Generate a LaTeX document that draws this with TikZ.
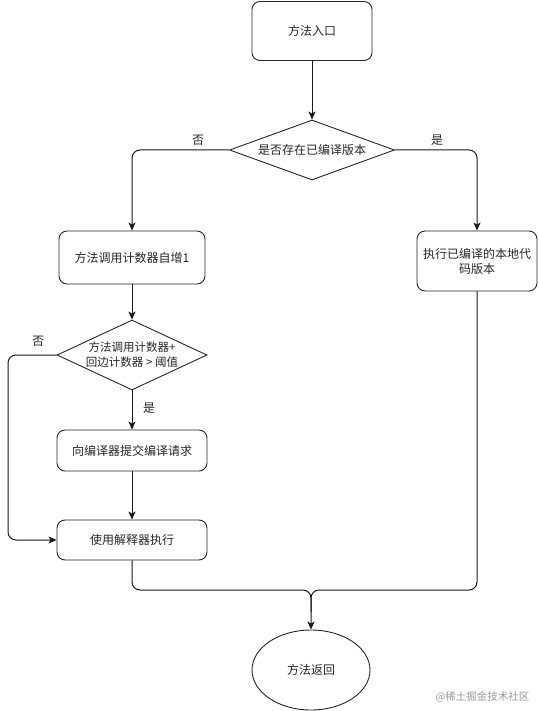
\documentclass[tikz,border=0pt]{standalone}
\usepackage{fontspec}
\setmainfont{Noto Sans CJK SC}
\usetikzlibrary{shapes.geometric,arrows.meta,calc}
\begin{document}
\begin{tikzpicture}[x=1pt,y=-1pt,
  every node/.style={font=\fontsize{12pt}{15pt}\selectfont, text=black!85},
  box/.style={draw=black!85, line width=0.9pt, rounded corners=8pt, align=center, inner sep=2pt},
  dia/.style={draw=black!85, line width=0.9pt, diamond, inner sep=0pt},
  conn/.style={draw=black!90, line width=1pt, rounded corners=8pt},
  arr/.style={conn, -{Stealth[length=8pt,width=7pt,inset=2pt]}},
  lbl/.style={inner sep=1pt}]
\useasboundingbox (0,0) rectangle (538,711);
\node[box, minimum width=120pt, minimum height=59pt] (entry) at (312,31) {方法入口};
\node[dia, minimum width=165pt, minimum height=60pt] (d1) at (312,150) {};
\node at (d1) {是否存在已编译版本};
\node[box, minimum width=146pt, minimum height=53pt] (inc) at (132,257.5) {方法调用计数器自增1};
\node[box, minimum width=120pt, minimum height=60pt, text width=116pt] (exec) at (477,261) {执行已编译的本地代\\码版本};
\node[dia, minimum width=150pt, minimum height=70pt] (d2) at (132,355) {};
\node[align=center, font=\fontsize{11.5pt}{15pt}\selectfont] at (d2) {方法调用计数器+\\回边计数器 > 阈值};
\node[box, minimum width=150pt, minimum height=41pt] (submit) at (132,450.5) {向编译器提交编译请求};
\node[box, minimum width=150pt, minimum height=40pt] (interp) at (132,540) {使用解释器执行};
\node[draw=black!85, line width=0.9pt, ellipse, minimum width=118pt, minimum height=80pt] (ret) at (311,670) {方法返回};
\coordinate (lp) at (8,355);
\coordinate (merge) at (311,590);
\coordinate (mid) at (311,612);
\draw[arr] (entry) -- (d1.north);
\draw[arr] (d1.west) -| (inc.north);
\draw[arr] (d1.east) -| (exec.north);
\draw[arr] (inc) -- (d2.north);
\draw[arr] (d2.west) -- (lp) |- (interp.west);
\draw[arr] (d2.south) -- (submit.north);
\draw[arr] (submit) -- (interp);
\draw[arr] (interp.south) |- (merge) -- (ret.north);
\draw[conn] (exec.south) |- (merge) -- (mid);
\node[lbl] (no1) at (198,140) {否};
\node[lbl] (yes1) at (437,140) {是};
\node[lbl] (no2) at (38,341) {否};
\node[lbl] (yes2) at (149,408) {是};
\node[text=black!40, font=\fontsize{10.5pt}{12pt}\selectfont, anchor=east] (wm) at (533,697) {@稀土掘金技术社区};
\end{tikzpicture}
\end{document}
